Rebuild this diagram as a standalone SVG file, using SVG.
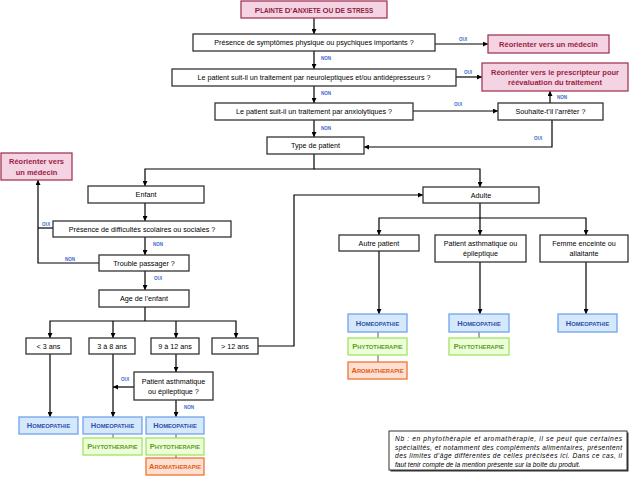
<svg xmlns="http://www.w3.org/2000/svg" width="630" height="490" viewBox="0 0 630 490">
<defs>
<marker id="ar" viewBox="0 0 6 6" refX="6" refY="3" markerWidth="5" markerHeight="5" markerUnits="userSpaceOnUse" orient="auto"><path d="M0,0 L6,3 L0,6 z" fill="#000"/></marker>
</defs>
<style>
.box{fill:#fff;stroke:#333;stroke-width:1.3}
.red{fill:#f4d3e3;stroke:#a33a56;stroke-width:1.3}
.hom{fill:#d6e9fb;stroke:#6fa4ee;stroke-width:1.3}
.phy{fill:#ecffd9;stroke:#a2e462;stroke-width:1.3}
.aro{fill:#fde0d2;stroke:#f07432;stroke-width:1.3}
text{font-family:"Liberation Sans",Arial,sans-serif;text-anchor:middle}
.t{font-size:7.2px;fill:#000}
.rt{font-size:7.5px;fill:#9b1d45;font-weight:bold}
.lb{font-size:4.6px;fill:#3a6ad0;font-weight:bold}
.ht{fill:#2d4fae;font-weight:bold;font-size:5.8px}
.pt{fill:#5c9c1f;font-weight:bold;font-size:5.8px}
.at{fill:#e25a14;font-weight:bold;font-size:5.8px}
.big{font-size:7.5px}
.c path{fill:none;stroke:#000;stroke-width:1.2}
.c path.a{marker-end:url(#ar)}
.g path{fill:none;stroke:#777;stroke-width:1.2}
.nb{font-size:6.6px;font-style:italic;text-anchor:start;fill:#000}
</style>

<g id="connectors" class="c">
<path class="a" d="M314,18 V34"/>
<path class="a" d="M314,51 V69"/>
<path class="a" d="M314,86 V103"/>
<path class="a" d="M314,120 V137"/>
<path class="a" d="M435,44 H488"/>
<path class="a" d="M456,77 H482"/>
<path class="a" d="M413,111 H498"/>
<path class="a" d="M552,117 V147 H364"/>
<path class="a" d="M550,103 V91"/>
<path class="a" d="M314,154 V169 H145 V186"/>
<path class="a" d="M314,169 H480 V187"/>
<path class="a" d="M145,203 V221"/>
<path d="M53,228 H38"/>
<path class="a" d="M145,237 V255"/>
<path class="a" d="M99,263 H38 V180"/>
<path class="a" d="M145,271 V290"/>
<path d="M145,307 V321"/>
<path class="a" d="M145,321 H50 V338"/>
<path class="a" d="M145,321 H236 V338"/>
<path class="a" d="M113,321 V338"/>
<path class="a" d="M176,321 V338"/>
<path class="a" d="M258,346 H294 V195 H423"/>
<path class="a" d="M50,354 V417"/>
<path class="a" d="M113,354 V417"/>
<path class="a" d="M176,354 V372"/>
<path class="a" d="M134,387 H113"/>
<path class="a" d="M176,400 V417"/>
<path d="M480,202 V218"/>
<path class="a" d="M480,218 H379 V235"/>
<path class="a" d="M480,218 H586 V235"/>
<path class="a" d="M480,218 V235"/>
<path class="a" d="M379,251 V314"/>
<path class="a" d="M480,262 V314"/>
<path class="a" d="M586,262 V314"/>
</g>
<g class="g">
<path d="M378,332 V338 M378,355 V362 M479,332 V338 M113,434 V438 M176,434 V438 M176,455 V458"/>
</g>
<g id="labels">
<text class="lb" x="326" y="60">NON</text>
<text class="lb" x="326" y="95">NON</text>
<text class="lb" x="326" y="130">NON</text>
<text class="lb" x="463" y="41">OUI</text>
<text class="lb" x="468" y="74">OUI</text>
<text class="lb" x="458" y="106">OUI</text>
<text class="lb" x="538" y="140">OUI</text>
<text class="lb" x="562" y="99">NON</text>
<text class="lb" x="46" y="226">OUI</text>
<text class="lb" x="158" y="246">NON</text>
<text class="lb" x="70" y="261">NON</text>
<text class="lb" x="158" y="280">OUI</text>
<text class="lb" x="125" y="381">OUI</text>
<text class="lb" x="189" y="409">NON</text>
</g>

<g id="n-plainte"><rect class="red" x="241" y="1" width="146" height="17"/><text y="12.5" x="314" style="fill:#8e1c3e;font-weight:bold;font-size:6.3px"><tspan style="font-size:8px">P</tspan>LAINTE <tspan style="font-size:8px">D</tspan>’<tspan style="font-size:8px">A</tspan>NXIETE <tspan style="font-size:8px">O</tspan>U <tspan style="font-size:8px">D</tspan>E <tspan style="font-size:8px">S</tspan>TRESS</text></g>
<g id="n-q1"><rect class="box" x="193" y="34" width="242" height="17"/><text class="t" x="314" y="45">Présence de symptômes physique ou psychiques importants ?</text></g>
<g id="n-q2"><rect class="box" x="172" y="69" width="284" height="17"/><text class="t" x="314" y="80">Le patient suit-il un traitement par neuroleptiques et/ou antidépresseurs ?</text></g>
<g id="n-q3"><rect class="box" x="215" y="103" width="198" height="17"/><text class="t" x="314" y="114">Le patient suit-il un traitement par anxiolytiques ?</text></g>
<g id="n-medecin1"><rect class="red" x="488" y="35" width="121" height="18"/><text class="rt" x="548.5" y="46.5">Réorienter vers un médecin</text></g>
<g id="n-prescripteur"><rect class="red" x="482" y="63" width="146" height="28"/><text class="rt" x="555" y="74.5">Réorienter vers le prescripteur pour</text><text class="rt" x="555" y="85">réévaluation du traitement</text></g>
<g id="n-souhaite"><rect class="box" x="498" y="103" width="105" height="17"/><text class="t" x="550.5" y="114">Souhaite-t’il l’arrêter ?</text></g>
<g id="n-type"><rect class="box" x="267" y="137" width="97" height="17"/><text class="t" x="315.5" y="148">Type de patient</text></g>
<g id="n-medecin2"><rect class="red" x="1" y="153" width="71" height="27"/><text class="rt" x="36.5" y="164">Réorienter vers</text><text class="rt" x="36.5" y="174.5">un médecin</text></g>
<g id="n-enfant"><rect class="box" x="88" y="186" width="116" height="17"/><text class="t" x="146" y="197">Enfant</text></g>
<g id="n-difficultes"><rect class="box" x="53" y="221" width="178" height="16"/><text class="t" x="142" y="231.5">Présence de difficultés scolaires ou sociales ?</text></g>
<g id="n-trouble"><rect class="box" x="99" y="255" width="90" height="16"/><text class="t" x="144" y="265.5">Trouble passager ?</text></g>
<g id="n-age"><rect class="box" x="99" y="290" width="90" height="17"/><text class="t" x="144" y="301">Age de l’enfant</text></g>
<g id="n-lt3"><rect class="box" x="26" y="338" width="45" height="16"/><text class="t" x="48.5" y="348.5">&lt; 3 ans</text></g>
<g id="n-3a8"><rect class="box" x="89" y="338" width="46" height="16"/><text class="t" x="112" y="348.5">3 à 8 ans</text></g>
<g id="n-9a12"><rect class="box" x="151" y="338" width="48" height="16"/><text class="t" x="175" y="348.5">9 à 12 ans</text></g>
<g id="n-gt12"><rect class="box" x="212" y="338" width="46" height="16"/><text class="t" x="235" y="348.5">&gt; 12 ans</text></g>
<g id="n-asthme-enf"><rect class="box" x="134" y="372" width="79" height="28"/><text class="t" x="173.5" y="384">Patient asthmatique</text><text class="t" x="173.5" y="394">ou épileptique ?</text></g>
<g id="n-adulte"><rect class="box" x="423" y="187" width="116" height="16"/><text class="t" x="481" y="197.5">Adulte</text></g>
<g id="n-autre"><rect class="box" x="339" y="235" width="80" height="16"/><text class="t" x="379" y="245.5">Autre patient</text></g>
<g id="n-asthme-ad"><rect class="box" x="435" y="235" width="91" height="27"/><text class="t" x="480.5" y="246">Patient asthmatique ou</text><text class="t" x="480.5" y="256">épileptique</text></g>
<g id="n-femme"><rect class="box" x="540" y="235" width="88" height="27"/><text class="t" x="584" y="246">Femme enceinte ou</text><text class="t" x="584" y="256">allaitante</text></g>

<g id="n-hom1"><rect class="hom" x="19" y="417" width="59" height="17"/><text class="ht" x="48.5" y="428"><tspan class="big">H</tspan>OMEOPATHIE</text></g>
<g id="n-hom2"><rect class="hom" x="83" y="417" width="59" height="17"/><text class="ht" x="112.5" y="428"><tspan class="big">H</tspan>OMEOPATHIE</text></g>
<g id="n-phy2"><rect class="phy" x="83" y="438" width="59" height="17"/><text class="pt" x="112.5" y="449"><tspan class="big">P</tspan>HYTOTHERAPIE</text></g>
<g id="n-hom3"><rect class="hom" x="146" y="417" width="58" height="17"/><text class="ht" x="175" y="428"><tspan class="big">H</tspan>OMEOPATHIE</text></g>
<g id="n-phy3"><rect class="phy" x="146" y="438" width="58" height="17"/><text class="pt" x="175" y="449"><tspan class="big">P</tspan>HYTOTHERAPIE</text></g>
<g id="n-aro3"><rect class="aro" x="146" y="458" width="58" height="17"/><text class="at" x="175" y="469"><tspan class="big">A</tspan>ROMATHERAPIE</text></g>
<g id="n-hom4"><rect class="hom" x="348" y="314" width="59" height="18"/><text class="ht" x="377.5" y="325.5"><tspan class="big">H</tspan>OMEOPATHIE</text></g>
<g id="n-phy4"><rect class="phy" x="348" y="338" width="59" height="17"/><text class="pt" x="377.5" y="349"><tspan class="big">P</tspan>HYTOTHERAPIE</text></g>
<g id="n-aro4"><rect class="aro" x="348" y="362" width="59" height="17"/><text class="at" x="377.5" y="373"><tspan class="big">A</tspan>ROMATHERAPIE</text></g>
<g id="n-hom5"><rect class="hom" x="449" y="314" width="60" height="18"/><text class="ht" x="479" y="325.5"><tspan class="big">H</tspan>OMEOPATHIE</text></g>
<g id="n-phy5"><rect class="phy" x="449" y="338" width="60" height="17"/><text class="pt" x="479" y="349"><tspan class="big">P</tspan>HYTOTHERAPIE</text></g>
<g id="n-hom6"><rect class="hom" x="558" y="314" width="59" height="18"/><text class="ht" x="587.5" y="325.5"><tspan class="big">H</tspan>OMEOPATHIE</text></g>

<g id="n-note">
<rect x="390.5" y="432.5" width="238" height="39" fill="#333"/>
<rect x="389" y="431" width="238" height="39" fill="#fff" stroke="#333" stroke-width="1"/>
<text class="nb" x="395" y="441" textLength="227" lengthAdjust="spacing">Nb : en phytothérapie et aromathérapie, il se peut que certaines</text>
<text class="nb" x="395" y="449.5" textLength="227" lengthAdjust="spacing">spécialités, et notamment des compléments alimentaires, présentent</text>
<text class="nb" x="395" y="458" textLength="227" lengthAdjust="spacing">des limites d’âge différentes de celles précisées ici. Dans ce cas, il</text>
<text class="nb" x="395" y="466.5">faut tenir compte de la mention présente sur la boîte du produit.</text>
</g>
</svg>
